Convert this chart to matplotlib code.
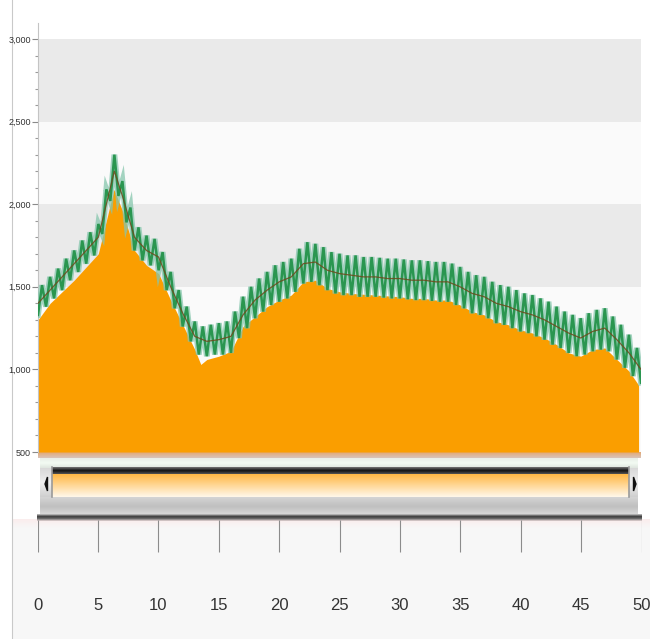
import numpy as np
import matplotlib
matplotlib.use("Agg")
import matplotlib.pyplot as plt
from matplotlib.colors import LinearSegmentedColormap
from matplotlib.patches import Polygon

FONT = ['Liberation Sans', 'DejaVu Sans']

# ---------------- data ----------------
# green spiky series (alternating low/high), evenly spaced over 0..50
green_vals = [
    1330, 1510, 1380, 1560, 1430, 1610, 1480, 1670, 1540, 1720,
    1590, 1780, 1640, 1830, 1690, 1880, 1820, 2090, 2020, 2300,
    2050, 2140, 1890, 1980, 1720, 1860, 1660, 1810, 1630, 1790,
    1600, 1710, 1480, 1590, 1370, 1480, 1260, 1380, 1170, 1290,
    1090, 1260, 1080, 1270, 1090, 1280, 1090, 1290, 1100, 1350,
    1190, 1440, 1250, 1500, 1310, 1550, 1350, 1590, 1390, 1630,
    1410, 1650, 1430, 1670, 1470, 1730, 1520, 1770, 1530, 1760,
    1510, 1740, 1480, 1710, 1460, 1700, 1450, 1690, 1450, 1690,
    1440, 1680, 1440, 1680, 1440, 1675, 1435, 1670, 1430, 1670,
    1430, 1665, 1425, 1660, 1420, 1660, 1420, 1655, 1415, 1650,
    1410, 1650, 1410, 1640, 1390, 1620, 1370, 1590, 1340, 1570,
    1330, 1560, 1310, 1530, 1280, 1510, 1270, 1500, 1250, 1480,
    1230, 1460, 1220, 1450, 1200, 1430, 1180, 1410, 1150, 1380,
    1130, 1350, 1100, 1330, 1080, 1310, 1090, 1340, 1110, 1360,
    1120, 1370, 1110, 1320, 1060, 1270, 1010, 1210, 960, 1130,
    920,
]

# central trend line
center_x = [0, 1, 2, 3, 4, 5, 6, 6.33, 7, 8, 9, 10, 11, 12, 13, 14, 15, 16,
            17, 18, 19, 20, 21, 22, 23, 24, 25, 26, 27, 28, 29, 30, 31, 32,
            33, 34, 35, 36, 37, 38, 39, 40, 41, 42, 43, 44, 45, 46, 47, 48,
            49, 50]
center_y = [1400, 1480, 1560, 1640, 1720, 1800, 2100, 2200, 2050, 1800, 1720,
            1680, 1500, 1340, 1200, 1170, 1180, 1200, 1330, 1420, 1480, 1530,
            1560, 1640, 1650, 1600, 1580, 1570, 1560, 1560, 1550, 1550, 1540,
            1540, 1530, 1530, 1500, 1460, 1440, 1400, 1380, 1350, 1330, 1300,
            1260, 1220, 1190, 1230, 1250, 1180, 1100, 1000]

# orange area series
orange_x = [0, 1, 2, 3, 4, 5, 6.3, 7, 8, 9, 10, 11, 12, 13, 13.5, 14, 15, 16,
            17, 18, 19, 20, 21, 22, 23, 24, 25, 26, 27, 28, 29, 30, 31, 32,
            33, 34, 35, 36, 37, 38, 39, 40, 41, 42, 43, 44, 45, 46, 47, 48,
            49, 49.8]
orange_y = [1300, 1400, 1470, 1540, 1620, 1700, 2090, 1960, 1720, 1630, 1580,
            1420, 1270, 1120, 1030, 1060, 1080, 1110, 1260, 1320, 1380, 1420,
            1450, 1530, 1540, 1490, 1470, 1460, 1455, 1450, 1445, 1440, 1430,
            1430, 1420, 1420, 1390, 1350, 1330, 1290, 1270, 1240, 1220, 1190,
            1150, 1100, 1080, 1120, 1130, 1060, 990, 905]

y_ticks = [500, 1000, 1500, 2000, 2500, 3000]
x_ticks = [0, 5, 10, 15, 20, 25, 30, 35, 40, 45, 50]

# ---------------- figure ----------------
W, H = 650, 639
fig = plt.figure(figsize=(W / 100, H / 100), dpi=100)
fig.patch.set_facecolor('white')


def fx(px):
    return px / W


def fy(py):
    return 1 - py / H


# decoration axes in pixel coordinates
deco = fig.add_axes([0, 0, 1, 1], zorder=0)
deco.set_xlim(0, W)
deco.set_ylim(H, 0)
deco.axis('off')


def grad(x0, x1, y0, y1, colors, z=1):
    cmap = LinearSegmentedColormap.from_list('g', colors)
    arr = np.linspace(0, 1, 64).reshape(-1, 1)
    deco.imshow(arr, cmap=cmap, extent=(x0, x1, y1, y0), aspect='auto',
                interpolation='bilinear', zorder=z)


# navigator panel background
deco.add_patch(plt.Rectangle((12, 519), W - 12, H - 519, color='#f7f7f7', zorder=0.5, lw=0))
grad(12, W, 519, 528, ['#fbeded', '#f7f7f7'], z=0.6)
# left border line
deco.plot([12, 12], [0, H], color='#c9c9c9', lw=0.8, zorder=3)

# scrollbar frame
grad(38, 641, 452, 458, ['#e2a873', '#d9c4bb'], z=1)
grad(40, 638, 458, 468, ['#e8efe8', '#f3fbf3', '#dfe6df'], z=1)
grad(40, 638, 497, 516, ['#d4d4d4', '#bfbfbf', '#dedede'], z=1)
# left/right arrow areas
grad(40, 52, 468, 497, ['#d8d8d8', '#efefef', '#cfcfcf'], z=1.1)
grad(629, 638, 468, 497, ['#d8d8d8', '#efefef', '#cfcfcf'], z=1.1)
# thumb
grad(52, 629, 467, 474, ['#777777', '#111111', '#555555'], z=1.2)
grad(52, 629, 474, 497, ['#ffb845', '#ffd898', '#fff8ea'], z=1.2)
deco.plot([52, 52], [467, 497], color='#9a9a9a', lw=1.2, zorder=1.3)
deco.plot([629, 629], [467, 497], color='#9a9a9a', lw=1.2, zorder=1.3)
deco.add_patch(Polygon([[45, 484], [47.5, 477], [47.5, 491]], closed=True,
                       color='#111111', zorder=1.4))
deco.add_patch(Polygon([[636, 484], [633.5, 477], [633.5, 491]], closed=True,
                       color='#111111', zorder=1.4))
# dark bottom line
grad(37, 642, 514, 521, ['#cfcfcf', '#3a3a3a', '#6a6a6a', '#e9dada'], z=1.5)

# ---------------- main chart ----------------
ax = fig.add_axes([fx(38), fy(452), fx(641) - fx(38), fy(22.5) - fy(452)], zorder=2)
ax.set_xlim(0, 50)
ax.set_ylim(500, 3100)
ax.set_facecolor('white')

band_colors = ['#fafafa', '#fafafa', '#eaeaea', '#fafafa', '#eaeaea']
for lo, hi, c in zip(y_ticks[:-1], y_ticks[1:], band_colors):
    ax.axhspan(lo, hi, color=c, lw=0, zorder=0)

green_x = np.linspace(0, 50, len(green_vals))
ax.fill_between(orange_x, 500, orange_y, color='#fa9e00', lw=0, zorder=2)
ax.plot(green_x, green_vals, color='#86c6ad', lw=4.2, alpha=0.75, zorder=3,
        solid_joinstyle='miter')
ax.plot(green_x, green_vals, color='#2a9650', lw=1.8, zorder=4,
        solid_joinstyle='miter')
ax.plot(center_x, center_y, color='#6e4a1c', lw=0.9, alpha=0.85, zorder=5)

for s in ['top', 'right', 'bottom']:
    ax.spines[s].set_visible(False)
ax.spines['left'].set_color('#c4c4c4')
ax.spines['left'].set_linewidth(0.8)
ax.set_xticks([])
ax.set_yticks(y_ticks)
ax.set_yticklabels([f'{v:,}' for v in y_ticks], fontfamily=FONT, fontsize=6.5,
                   color='#333333')
ax.set_yticks(np.arange(500, 3100, 100), minor=True)
ax.tick_params(axis='y', which='major', length=4, width=0.8, color='#8a8a8a', pad=1)
ax.tick_params(axis='y', which='minor', length=2, width=0.8, color='#9a9a9a')

# ---------------- navigator ticks ----------------
axn = fig.add_axes([fx(37.5), fy(637), fx(641.5) - fx(37.5), fy(520) - fy(637)], zorder=3)
axn.set_xlim(0, 50)
axn.set_ylim(637, 520)
axn.patch.set_alpha(0)
axn.axis('off')
axn.vlines(x_ticks, 520, 552, color='#8c8c8c', lw=0.8)
for t in x_ticks:
    axn.text(t, 606, str(t), ha='center', va='center', fontsize=12,
             fontfamily=FONT, color='#333333')

fig.savefig('out.png', dpi=100, facecolor='white')
